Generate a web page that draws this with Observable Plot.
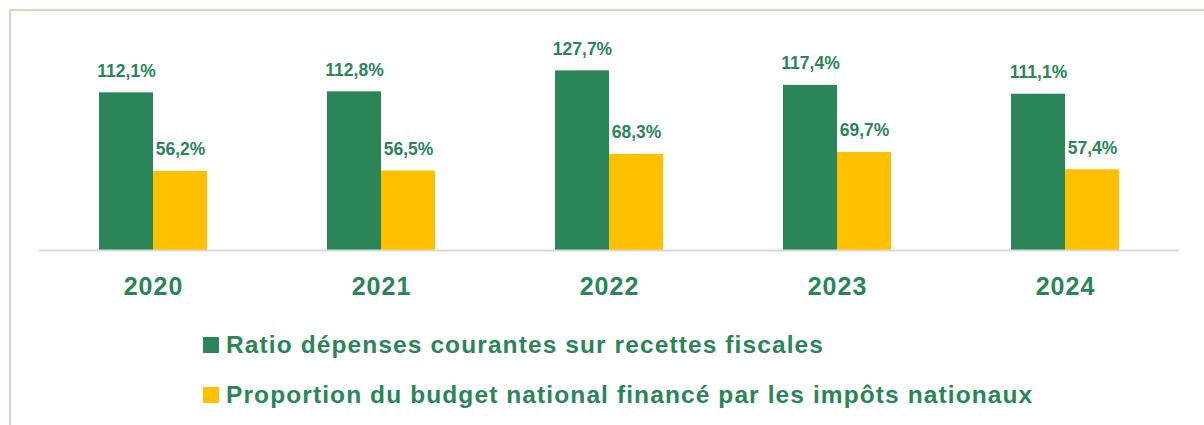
<!DOCTYPE html>
<html>
<head>
<meta charset="utf-8">
<script src="https://cdn.jsdelivr.net/npm/d3@7"></script>
<script src="https://cdn.jsdelivr.net/npm/@observablehq/plot@0.6"></script>
<style>
  html, body { margin: 0; padding: 0; background: #fff; }
  body { width: 1204px; height: 425px; overflow: hidden; position: relative; font-family: "Liberation Sans", Arial, sans-serif; }
  #frame { position: absolute; left: 9px; top: 9px; width: 1193px; height: 414px;
           border-top: 2px solid #C5E0B4; border-left: 2px solid #C5E0B4; }
  #chart svg { display: block; }
  g[aria-label^="fx-axis"] text { font-size: 25px; font-weight: bold; fill: #2A8558; letter-spacing: 1px; }
  #legend { margin-left: 192px; margin-top: 20px; }
  .row { display: flex; align-items: center; height: 28px; margin-bottom: 22px;
         font-size: 24.5px; font-weight: bold; color: #2A8558; white-space: nowrap; letter-spacing: 1.1px; }
  .sw { width: 16px; height: 16px; margin-right: 7px; flex: none; }
</style>
</head>
<body>
<div id="frame">
  <div id="chart"></div>
  <div id="legend"></div>
</div>
<script>
const years = ["2020", "2021", "2022", "2023", "2024"];
const seriesNames = [
  "Ratio dépenses courantes sur recettes fiscales",
  "Proportion du budget national financé par les impôts nationaux"
];
const ratioValues = [112.1, 112.8, 127.7, 117.4, 111.1];
const proportionValues = [56.2, 56.5, 68.3, 69.7, 57.4];
const colors = ["#2A8558", "#FFC000"];
const textColor = "#2A8558";

const data = [];
years.forEach((yr, i) => {
  data.push({year: yr, series: seriesNames[0], value: ratioValues[i]});
  data.push({year: yr, series: seriesNames[1], value: proportionValues[i]});
});

const fmt = v => v.toFixed(1).replace(".", ",") + "%";

const chart = Plot.plot({
  width: 1193,
  height: 300,
  marginLeft: 27,
  marginRight: 24,
  marginTop: 28,
  marginBottom: 61,
  style: { fontFamily: "'Liberation Sans', Arial, sans-serif", background: "transparent" },
  fx: { domain: years, padding: 0, label: null, axis: "bottom", tickSize: 0, tickPadding: 27 },
  x: { domain: seriesNames, axis: null, paddingInner: 0, paddingOuter: 1.095 },
  y: { domain: [0, 150], axis: null },
  color: { domain: seriesNames, range: colors },
  marks: [
    Plot.barY(data, { fx: "year", x: "series", y: "value", fill: "series", inset: 0 }),
    Plot.ruleY([0], { stroke: "#D9D9D9", strokeWidth: 2 }),
    Plot.text(data, {
      fx: "year", x: "series", y: "value", text: d => fmt(d.value),
      dy: -16, lineAnchor: "bottom", fill: textColor,
      fontSize: 17.5, fontWeight: "bold"
    })
  ]
});
document.getElementById("chart").appendChild(chart);

const legend = document.getElementById("legend");
seriesNames.forEach((name, i) => {
  const row = document.createElement("div");
  row.className = "row";
  const sw = document.createElement("span");
  sw.className = "sw";
  sw.style.background = colors[i];
  const label = document.createElement("span");
  label.textContent = name;
  row.appendChild(sw);
  row.appendChild(label);
  legend.appendChild(row);
});
</script>
</body>
</html>
